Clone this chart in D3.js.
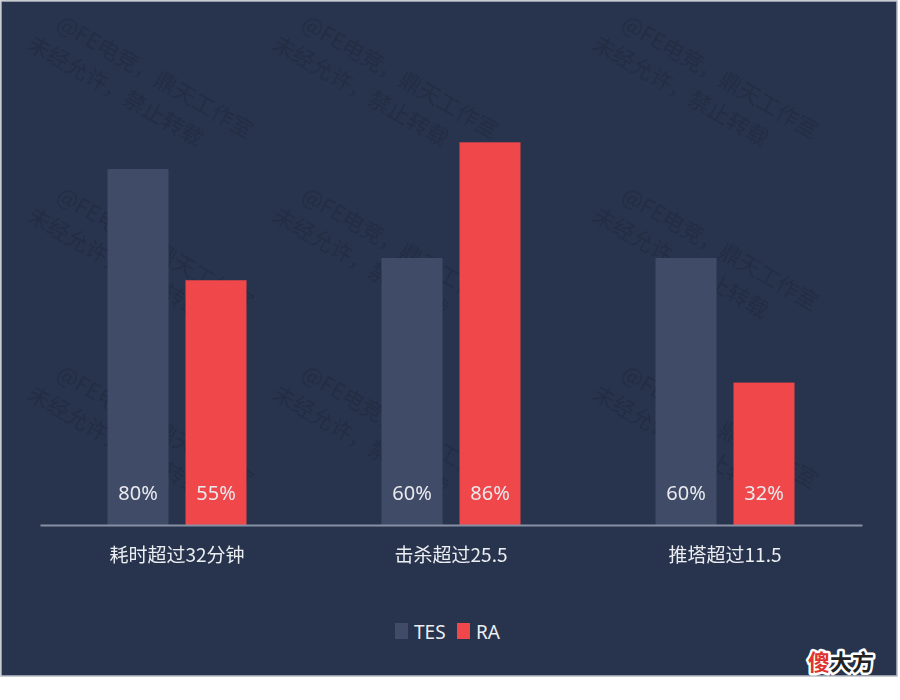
<!DOCTYPE html>
<html><head><meta charset="utf-8">
<script src="https://cdn.jsdelivr.net/npm/d3@7/dist/d3.min.js"></script>
<style>body{margin:0;background:#fff}svg{display:block}</style>
</head><body>
<svg id="c" width="900" height="700"></svg>
<script>
const categories = ["耗时超过32分钟", "击杀超过25.5", "推塔超过11.5"];
const seriesNames = ["TES", "RA"];
const tesValues = [80, 60, 60];
const raValues = [55, 86, 32];
const colors = {TES: "#404b67", RA: "#f0474a"};
const watermarkLines = ["@FE电竞，鼎天工作室", "未经允许，禁止转载"];

const svg = d3.select("#c");
const W = 900, H = 700;
svg.append("rect").attr("width", W).attr("height", H).attr("fill", "#ffffff");
svg.append("rect").attr("x", 1).attr("y", 1).attr("width", 896).attr("height", 675)
  .attr("fill", "#28344d").attr("stroke", "#b8bcc4").attr("stroke-width", 1.5);

// watermark
const wm = svg.append("g").attr("fill", "#1f2a3f").attr("opacity", 0.55)
  .style("font-family", "'Noto Sans CJK SC', sans-serif").style("font-size", "22px");
const wmPos = [];
[55, 300, 620].forEach(x => [28, 200, 378].forEach(y => wmPos.push([x, y])));
wmPos.forEach(([x, y]) => {
  const g = wm.append("g").attr("transform", `translate(${x},${y}) rotate(30)`);
  g.append("text").attr("x", 0).attr("y", 0).text(watermarkLines[0]);
  g.append("text").attr("x", -15).attr("y", 32).text(watermarkLines[1]);
});

const margin = {left: 40, right: 38};
const x0 = d3.scaleBand().domain(categories).range([margin.left, W - margin.right]).paddingInner(0).paddingOuter(0);
const y = d3.scaleLinear().domain([0, 100]).range([525, 80]);
const barW = 61, gap = 17;
const x1 = d3.scaleOrdinal().domain(seriesNames).range([-(gap/2 + barW), gap/2]);

const data = categories.map((c, i) => ({c, TES: tesValues[i], RA: raValues[i]}));

const gBars = svg.append("g");
data.forEach(d => {
  seriesNames.forEach(s => {
    const cx = x0(d.c) + x0.bandwidth() / 2 + x1(s);
    gBars.append("rect").attr("x", cx).attr("y", y(d[s]))
      .attr("width", barW).attr("height", y(0) - y(d[s])).attr("fill", colors[s]);
    gBars.append("text").attr("x", cx + barW / 2).attr("y", 500)
      .attr("text-anchor", "middle").attr("fill", "#e8eaee")
      .style("font-family", "'Noto Sans', 'Open Sans', sans-serif").style("font-size", "20px")
      .text(d[s] + "%");
  });
});

// axis
const axis = svg.append("g").attr("transform", `translate(0,${y(0)})`)
  .call(d3.axisBottom(x0).tickSize(0).tickPadding(24));
axis.select(".domain").attr("stroke", "#8790a3").attr("stroke-width", 2);
axis.selectAll("text").attr("fill", "#eceef2")
  .style("font-family", "'Noto Sans CJK SC', sans-serif").style("font-size", "19px");

// legend
const leg = svg.append("g").style("font-family", "'Noto Sans', sans-serif").style("font-size", "19px");
const legX = [395, 457];
seriesNames.forEach((s, i) => {
  leg.append("rect").attr("x", legX[i]).attr("y", 623).attr("width", 13).attr("height", 16).attr("fill", colors[s]);
  leg.append("text").attr("x", legX[i] + 19).attr("y", 639).attr("fill", "#eceef2").text(s);
});

// logo
const lt = svg.append("text").attr("x", 808).attr("y", 670)
  .style("font-family", "'Noto Sans CJK SC', sans-serif").style("font-size", "22px").style("font-weight", "bold")
  .attr("stroke", "#fff").attr("stroke-width", 5).attr("stroke-linejoin", "round").style("paint-order", "stroke");
lt.append("tspan").attr("fill", "#e0322e").text("傻");
lt.append("tspan").attr("fill", "#222").text("大方");
</script>
</body></html>
